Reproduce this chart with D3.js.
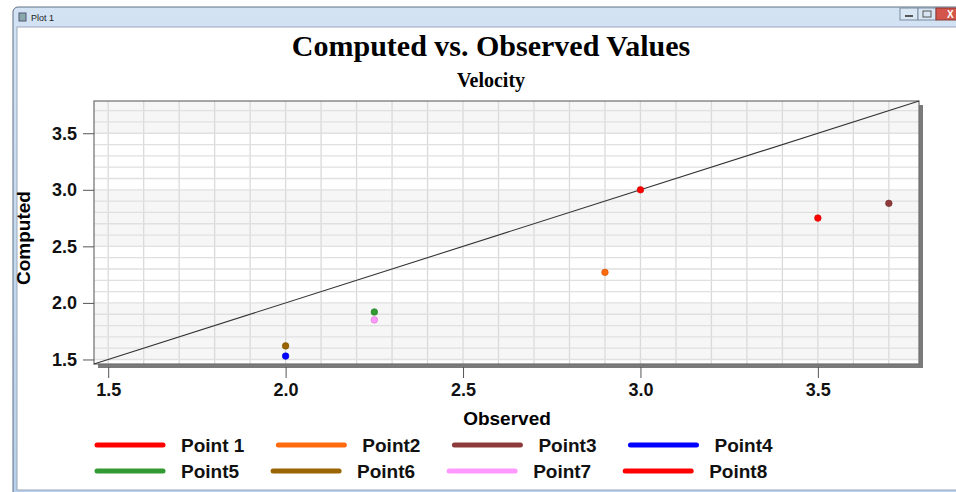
<!DOCTYPE html>
<html><head><meta charset="utf-8">
<script src="https://cdn.jsdelivr.net/npm/d3@7"></script>
<style>body{margin:0;background:#fff;} svg{display:block;}</style>
</head><body>
<svg id="chart" width="956" height="492"></svg>
<script>
// ---- data ----
const seriesNames = ["Point 1","Point2","Point3","Point4","Point5","Point6","Point7","Point8"];
const observed = [3.0, 2.9, 3.7, 2.0, 2.25, 2.0, 2.25, 3.5];
const computed = [3.0, 2.27, 2.88, 1.53, 1.92, 1.62, 1.85, 2.75];
const seriesColors = ["#ff0000","#ff6a0e","#8f3a3a","#0000ff","#339933","#9a6400","#ff99ff","#ff0000"];
const tickValues = [1.5, 2.0, 2.5, 3.0, 3.5];
const axisRange = [1.46, 3.785];

const svg = d3.select("#chart");

// ---- window chrome ----
const defs = svg.append("defs");
const tg = defs.append("linearGradient").attr("id","tbar").attr("x1",0).attr("x2",0).attr("y1",0).attr("y2",1);
tg.append("stop").attr("offset","0%").attr("stop-color","#d3e3f4");
tg.append("stop").attr("offset","100%").attr("stop-color","#b8d0ea");
svg.append("rect").attr("x",13).attr("y",7).attr("width",960).attr("height",490)
  .attr("rx",5).attr("fill","url(#tbar)").attr("stroke","#5f6f86");
svg.append("rect").attr("x",17).attr("y",27).attr("width",950).attr("height",463)
  .attr("fill","#fff").attr("stroke","#9aa8ba");
svg.append("rect").attr("x",19).attr("y",13).attr("width",7).attr("height",8).attr("fill","#8aa").attr("stroke","#557");
svg.append("text").attr("x",31).attr("y",21).attr("font-family","Liberation Sans, Arial").attr("font-size",9).attr("fill","#222").text("Plot 1");
// buttons
svg.append("rect").attr("x",900).attr("y",8).attr("width",18).attr("height",12).attr("fill","#d9e6f3").attr("stroke","#7b8ba0");
svg.append("rect").attr("x",918).attr("y",8).attr("width",18).attr("height",12).attr("fill","#d9e6f3").attr("stroke","#7b8ba0");
svg.append("rect").attr("x",936).attr("y",8).attr("width",30).attr("height",12).attr("fill","#d4554a").attr("stroke","#8a3a33");
svg.append("line").attr("x1",905).attr("x2",913).attr("y1",16).attr("y2",16).attr("stroke","#555").attr("stroke-width",2);
svg.append("rect").attr("x",923).attr("y",11).attr("width",8).attr("height",6).attr("fill","none").attr("stroke","#555");
svg.append("text").attr("x",947).attr("y",18).attr("font-family","Liberation Sans, Arial").attr("font-size",10).attr("font-weight","bold").attr("fill","#fff").text("X");

// ---- plot ----
const L = 94, T = 101, R = 919, B = 364;
const x = d3.scaleLinear().domain(axisRange).range([L, R]);
const y = d3.scaleLinear().domain(axisRange).range([B, T]);

// shadow
svg.append("rect").attr("x",L+4).attr("y",T+4).attr("width",R-L).attr("height",B-T).attr("fill","#7a7a7a");
svg.append("rect").attr("x",L).attr("y",T).attr("width",R-L).attr("height",B-T).attr("fill","#fff");

// bands at 0.5 intervals
const bandEdges = [1.5, 2.0, 2.5, 3.0, 3.5, axisRange[1]];
const bands = [];
for (let i = 0; i < bandEdges.length - 1; i += 2) bands.push([bandEdges[i], bandEdges[i+1]]);
svg.append("g").selectAll("rect").data(bands).join("rect")
  .attr("x",L).attr("width",R-L)
  .attr("y",d=>y(d[1])).attr("height",d=>y(d[0])-y(d[1]))
  .attr("fill","#f6f6f6");

// grid
const minor = d3.range(15, 38).map(v => v/10);
const grid = svg.append("g").attr("stroke-width",1.3);
grid.selectAll(".vx").data(minor).join("line")
  .attr("x1",d=>x(d)).attr("x2",d=>x(d)).attr("y1",T).attr("y2",B)
  .attr("stroke","#dadada");
grid.selectAll(".hy").data(minor).join("line")
  .attr("y1",d=>y(d)).attr("y2",d=>y(d)).attr("x1",L).attr("x2",R)
  .attr("stroke","#e0e0e0");

// border
svg.append("rect").attr("x",L).attr("y",T).attr("width",R-L).attr("height",B-T)
  .attr("fill","none").attr("stroke","#6e6e6e").attr("stroke-width",1.2);

// diagonal y = x
svg.append("line").attr("x1",x(axisRange[0])).attr("y1",y(axisRange[0]))
  .attr("x2",x(axisRange[1])).attr("y2",y(axisRange[1]))
  .attr("stroke","#333").attr("stroke-width",1.1);

// points
const pts = seriesNames.map((n,i)=>({n, x:observed[i], y:computed[i], c:seriesColors[i]}));
svg.append("g").selectAll("circle").data(pts).join("circle")
  .attr("cx",d=>x(d.x)).attr("cy",d=>y(d.y)).attr("r",3.3)
  .attr("fill",d=>d.c).attr("stroke",d=>d3.color(d.c).darker(0.6)).attr("stroke-width",0.6);

// axes
const font = "Liberation Sans, Arial, sans-serif";
const yAxis = svg.append("g").attr("transform",`translate(${L},0)`)
  .call(d3.axisLeft(y).tickValues(tickValues).tickSize(11).tickPadding(6).tickFormat(d3.format(".1f")));
const xAxis = svg.append("g").attr("transform",`translate(0,${B+3})`)
  .call(d3.axisBottom(x).tickValues(tickValues).tickSize(11).tickPadding(5).tickFormat(d3.format(".1f")));
[xAxis, yAxis].forEach(a => {
  a.select(".domain").remove();
  a.selectAll(".tick line").attr("stroke","#555");
  a.selectAll(".tick text").attr("font-family",font).attr("font-size",18).attr("font-weight","bold").attr("fill","#111");
});

// titles
svg.append("text").attr("x",491).attr("y",56).attr("text-anchor","middle")
  .attr("font-family","Liberation Serif, Times New Roman, serif").attr("font-weight","bold").attr("font-size",30)
  .text("Computed vs. Observed Values");
svg.append("text").attr("x",491).attr("y",87).attr("text-anchor","middle")
  .attr("font-family","Liberation Serif, Times New Roman, serif").attr("font-weight","bold").attr("font-size",20)
  .text("Velocity");
svg.append("text").attr("x",507).attr("y",425).attr("text-anchor","middle")
  .attr("font-family",font).attr("font-weight","bold").attr("font-size",19).text("Observed");
svg.append("text").attr("transform","translate(30,238) rotate(-90)").attr("text-anchor","middle")
  .attr("font-family",font).attr("font-weight","bold").attr("font-size",19).text("Computed");

// legend
const perRow = 4;
const legend = svg.append("g");
const rows = d3.groups(pts.map((d,i)=>({...d,i})), d => Math.floor(d.i / perRow));
rows.forEach(([r, items]) => {
  let cx = 95;
  const cy = 445 + r * 26;
  items.forEach(d => {
    legend.append("line").attr("x1",cx+2).attr("x2",cx+68).attr("y1",cy).attr("y2",cy)
      .attr("stroke",d.c).attr("stroke-width",5).attr("stroke-linecap","round");
    const t = legend.append("text").attr("x",cx+86).attr("y",cy+7)
      .attr("font-family",font).attr("font-weight","bold").attr("font-size",19).attr("fill","#111").text(d.n);
    cx += 86 + t.node().getComputedTextLength() + 32;
  });
});
</script>
</body></html>
